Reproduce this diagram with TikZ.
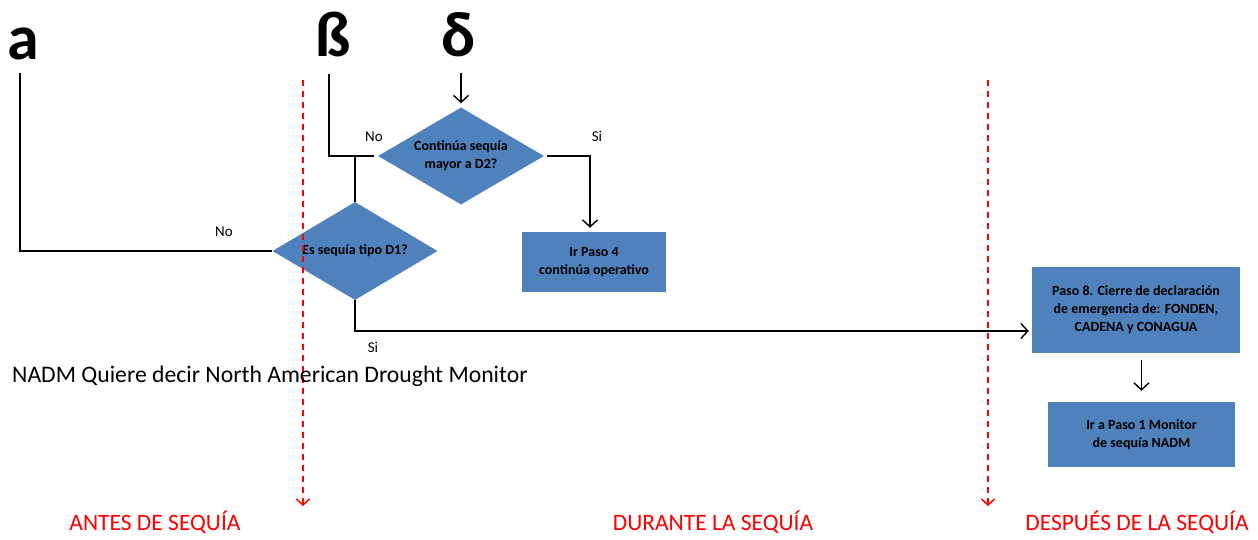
\documentclass[tikz,border=0pt]{standalone}
\usepackage{fontspec}
\setmainfont{Carlito}
\usetikzlibrary{shapes.geometric,arrows.meta}
\definecolor{boxblue}{HTML}{4F81BD}
\definecolor{zonered}{HTML}{FF0000}
\begin{document}
\begin{tikzpicture}[x=1pt,y=-1pt,
  decision/.style={diamond,aspect=1.7,fill=boxblue,inner sep=0pt,minimum width=166pt,minimum height=97pt,align=center,font=\fontsize{14}{18}\selectfont\bfseries},
  stepbox/.style={rectangle,fill=boxblue,inner sep=0pt,align=center,font=\fontsize{14}{18}\selectfont\bfseries},
  conn/.style={draw=black,line width=2.2pt},
  thinarrow/.style={draw=black,line width=1.4pt,-{Straight Barb[length=7pt,width=15pt,line width=1.4pt]}},
  zone/.style={draw=zonered,line width=2pt,dash pattern=on 6pt off 5pt,-{Straight Barb[length=6pt,width=13pt,line width=1.5pt]}},
  big/.style={font=\fontsize{64}{64}\selectfont\bfseries,inner sep=0pt,anchor=base},
  lbl/.style={font=\fontsize{15}{18}\selectfont,inner sep=0pt},
  zonelbl/.style={font=\fontsize{23.5}{28}\selectfont,text=zonered,inner sep=0pt}]
\useasboundingbox (0,0) rectangle (1258,540);

% big letters
\node[big] (la) at (23,60) {a};
\node[big] (lb) at (333,57) {ß};
\node[big] (ld) at (459,57) {δ};

% decisions
\node[decision] (d2) at (461,156) {Continúa sequía\\mayor a D2?};
\node[decision,minimum width=165pt,minimum height=98pt] (d1) at (355,251) {Es sequía tipo D1?};

% boxes
\node[stepbox,minimum width=144pt,minimum height=60pt] (b4) at (594,262) {Ir Paso 4\\continúa operativo};
\node[stepbox,minimum width=208pt,minimum height=86pt] (b8) at (1136,310) {Paso 8. Cierre de declaración\\de emergencia de: FONDEN,\\CADENA y CONAGUA};
\node[stepbox,minimum width=187pt,minimum height=65pt] (b1) at (1141.5,434.5) {Ir a Paso 1 Monitor\\de sequía NADM};

% free ends
\coordinate (aTop) at (20,73);
\coordinate (bTop) at (329,74);
\coordinate (dTop) at (461,73);
\coordinate (zoneA0) at (303,80);
\coordinate (zoneA1) at (303,506);
\coordinate (zoneB0) at (988,80);
\coordinate (zoneB1) at (988,506);

% connectors
\draw[conn] (aTop) |- (d1.west);
\draw[conn] (bTop) |- ([xshift=-4pt]d2.west);
\draw[conn] (d1.north) -- (d1.north |- d2.west);
\draw[thinarrow,shorten >=4pt] (dTop) -- (d2.north);
\draw[conn] ([xshift=3pt]d2.east) -| ([xshift=-4pt,yshift=8pt]b4.north);
\draw[thinarrow,shorten >=4pt] ([xshift=-4pt,yshift=40pt]b4.north) -- ([xshift=-4pt]b4.north);
\draw[conn] (d1.south) |- ([yshift=-21pt,xshift=-10pt]b8.west);
\draw[thinarrow,shorten >=3pt] ([yshift=-21pt,xshift=-12pt]b8.west) -- ([yshift=-21pt]b8.west);
\draw[thinarrow,shorten <=7pt,shorten >=11pt] (b8.south -| b1.north) -- (b1.north);

% zone arrows
\draw[zone] (zoneA0) -- (zoneA1);
\draw[zone] (zoneB0) -- (zoneB1);

% labels
\node[lbl] (no1) at (224,232) {No};
\node[lbl] (no2) at (374,137) {No};
\node[lbl] (si1) at (597,136) {Si};
\node[lbl] (si2) at (373,347) {Si};

\node[font=\fontsize{23.7}{28}\selectfont,inner sep=0pt,anchor=base west] (nadm) at (12,382) {NADM Quiere decir North American Drought Monitor};

\node[zonelbl] (antes) at (155,522) {ANTES DE SEQUÍA};
\node[zonelbl] (durante) at (713,522) {DURANTE LA SEQUÍA};
\node[zonelbl] (despues) at (1137,522) {DESPUÉS DE LA SEQUÍA};
\end{tikzpicture}
\end{document}
